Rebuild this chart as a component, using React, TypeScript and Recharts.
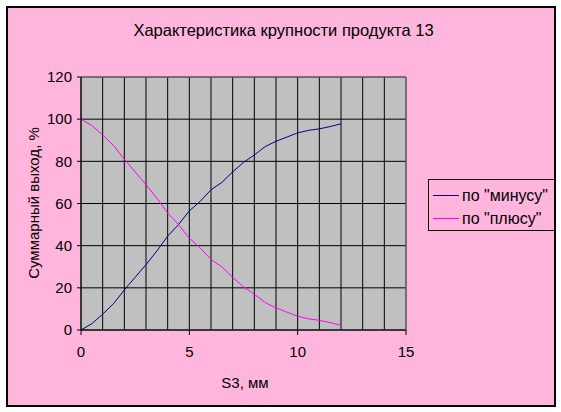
import { FC } from "react";
import {
  CartesianGrid,
  Line,
  LineChart,
  ReferenceArea,
  XAxis,
  YAxis,
} from "recharts";

// sieve size S3, mm
const SIZES = [0, 0.5, 1, 1.5, 2, 2.5, 3, 3.5, 4, 4.5, 5, 5.5, 6, 6.5, 7, 7.5, 8, 8.5, 9, 9.5, 10, 10.5, 11, 11.5, 12];
// cumulative yield, %
const MINUS = [0, 3, 7.5, 12.5, 19, 25, 31, 37.5, 44.5, 50, 56.5, 61, 66.5, 70, 75, 79.5, 83, 87, 89.5, 91.5, 93.5, 94.7, 95.4, 96.5, 97.8];
const PLUS = [100, 97, 92.5, 87.5, 81, 75, 69, 62.5, 55.5, 50, 43.5, 39, 33.5, 30, 25, 20.5, 17, 13, 10.5, 8.5, 6.5, 5.3, 4.6, 3.5, 2.2];

const X_TICKS = [0, 5, 10, 15];
const X_GRID = [0, 1, 2, 3, 4, 5, 6, 7, 8, 9, 10, 11, 12, 13, 14, 15];
const Y_TICKS = [0, 20, 40, 60, 80, 100, 120];

const SERIES = [
  { key: "minus", name: 'по "минусу"', color: "#000080" },
  { key: "plus", name: 'по "плюсу"', color: "#FF00FF" },
];

const data = SIZES.map((s, i) => ({ s, minus: MINUS[i], plus: PLUS[i] }));

const FONT = '"Liberation Sans", Arial, sans-serif';

const App: FC = () => {
  return (
    <div
      style={{
        position: "absolute",
        left: 0,
        top: 0,
        width: 561,
        height: 412,
        background: "#fff",
        fontFamily: FONT,
        color: "#000",
      }}
    >
      <div
        style={{
          position: "absolute",
          left: 6,
          top: 6,
          width: 550,
          height: 401,
          boxSizing: "border-box",
          border: "2px solid #000",
          background: "#FFB5DC",
        }}
      />
      <div
        style={{
          position: "absolute",
          left: 0,
          width: 567,
          top: 21,
          textAlign: "center",
          fontSize: 16.5,
        }}
      >
        Характеристика крупности продукта 13
      </div>
      <div
        style={{
          position: "absolute",
          left: 33,
          top: 203,
          transform: "translate(-50%, -50%) rotate(-90deg)",
          whiteSpace: "nowrap",
          fontSize: 15,
        }}
      >
        Суммарный выход, %
      </div>
      <div
        style={{
          position: "absolute",
          left: 245,
          top: 382,
          transform: "translate(-50%, -50%)",
          whiteSpace: "nowrap",
          fontSize: 15,
        }}
      >
        S3, мм
      </div>
      <LineChart
        width={561}
        height={412}
        data={data}
        margin={{ top: 77, right: 155, bottom: 0, left: 0 }}
        style={{ position: "absolute", left: 0, top: 0 }}
      >
        <XAxis
          dataKey="s"
          type="number"
          domain={[0, 15]}
          ticks={X_TICKS}
          interval={0}
          height={82}
          tickSize={5}
          tickMargin={11}
          stroke="#000"
          tick={{ fill: "#000", fontSize: 15 }}
        />
        <XAxis xAxisId="grid" dataKey="s" type="number" domain={[0, 15]} ticks={X_GRID} interval={0} hide />
        <YAxis
          type="number"
          domain={[0, 120]}
          ticks={Y_TICKS}
          interval={0}
          width={81}
          tickSize={4}
          tickMargin={5}
          stroke="#000"
          tick={{ fill: "#000", fontSize: 15 }}
        />
        <CartesianGrid xAxisId="grid" fill="#C0C0C0" fillOpacity={1} stroke="#000" strokeOpacity={1} />
        <ReferenceArea x1={0} x2={15} y1={0} y2={120} fill="none" stroke="#808080" />
        {SERIES.map((s) => (
          <Line
            key={s.key}
            dataKey={s.key}
            name={s.name}
            stroke={s.color}
            strokeWidth={1}
            dot={false}
            type="linear"
            isAnimationActive={false}
          />
        ))}
      </LineChart>
      <div
        style={{
          position: "absolute",
          left: 428,
          top: 179,
          width: 127,
          height: 52,
          boxSizing: "border-box",
          border: "1px solid #000",
          paddingTop: 4,
        }}
      >
        {SERIES.map((s) => (
          <div key={s.key} style={{ display: "flex", alignItems: "center", height: 23, fontSize: 16 }}>
            <span style={{ display: "inline-block", width: 26, height: 1, background: s.color, marginLeft: 4, marginRight: 3 }} />
            <span style={{ whiteSpace: "nowrap" }}>{s.name}</span>
          </div>
        ))}
      </div>
    </div>
  );
};

export default App;
